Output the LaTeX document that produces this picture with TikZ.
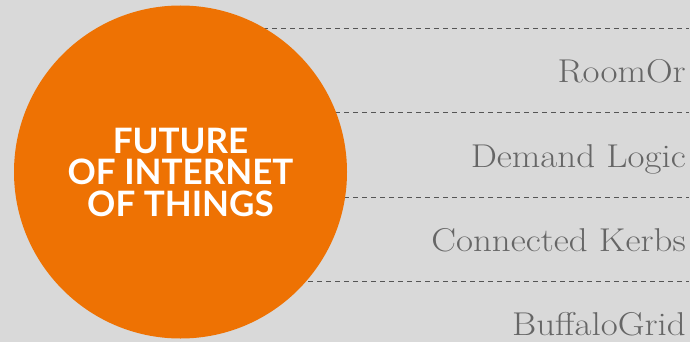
\documentclass[tikz,border=0pt]{standalone}
\usepackage{fontspec}
\newfontfamily\titlefont{Lato}[UprightFont=* Bold]
\newfontfamily\labelfont{Latin Modern Roman}[FakeStretch=1.12]
\definecolor{bggray}{HTML}{D9D9D9}
\definecolor{iotorange}{HTML}{EE7203}
\definecolor{labelgray}{HTML}{666666}
\definecolor{dashgray}{HTML}{555555}
\begin{document}
\begin{tikzpicture}[x=1pt,y=-1pt,
  bigcircle/.style={circle, fill=iotorange, draw=none, minimum size=333pt, inner sep=0pt,
    align=center, text=white, font=\titlefont\fontsize{35}{31.5}\selectfont},
  dashline/.style={draw=dashgray, line width=1pt, dash pattern=on 5pt off 4pt},
  company/.style={anchor=base east, inner sep=0pt, text=labelgray,
    font=\labelfont\fontsize{33}{40}\selectfont}]
  \fill[bggray] (0,0) rectangle (690,342);
  \useasboundingbox (0,0) rectangle (690,342);
  % dashed separators (drawn behind the circle)
  \coordinate (s1) at (200,29);  \coordinate (e1) at (689,29);
  \coordinate (s2) at (200,113); \coordinate (e2) at (689,113);
  \coordinate (s3) at (200,197); \coordinate (e3) at (689,197);
  \coordinate (s4) at (200,281); \coordinate (e4) at (689,281);
  \draw[dashline] (s1) -- (e1);
  \draw[dashline] (s2) -- (e2);
  \draw[dashline] (s3) -- (e3);
  \draw[dashline] (s4) -- (e4);
  % circle with title
  \node[bigcircle] (iot) at (180.5,172) {FUTURE\\OF INTERNET\\OF THINGS};
  % labels
  \node[company] (l1) at (686,83)  {RoomOr};
  \node[company] (l2) at (686,167) {Demand Logic};
  \node[company] (l3) at (686,251) {Connected Kerbs};
  \node[company] (l4) at (686,335) {BuffaloGrid};
\end{tikzpicture}
\end{document}
